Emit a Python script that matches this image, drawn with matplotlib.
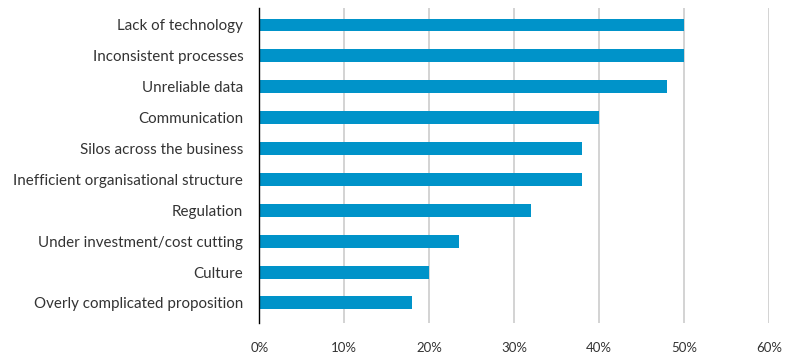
import matplotlib
matplotlib.use("Agg")
import matplotlib.pyplot as plt
from matplotlib.ticker import FuncFormatter

# barriers, top to bottom, with share of respondents (%)
labels = ["Lack of technology", "Inconsistent processes", "Unreliable data",
          "Communication", "Silos across the business",
          "Inefficient organisational structure", "Regulation",
          "Under investment/cost cutting", "Culture",
          "Overly complicated proposition"]
values = [50, 50, 48, 40, 38, 38, 32, 23.5, 20, 18]
xticks = [0, 10, 20, 30, 40, 50, 60]

plt.rcParams['font.family'] = ['Lato', 'DejaVu Sans']

fig = plt.figure(figsize=(7.92, 3.56), dpi=100)
ax = fig.add_axes([0.3274, 0.0927, 0.6439, 0.8848])

pos = list(range(len(labels)))
ax.barh(pos, values, height=0.42, color="#0093c9", zorder=3)

ax.set_xlim(0, 60)
ax.set_ylim(9.65, -0.55)
ax.set_xticks(xticks)
ax.xaxis.set_major_formatter(FuncFormatter(lambda v, p: f"{v:.0f}%"))
ax.set_yticks(pos)
ax.set_yticklabels(labels)

ax.grid(axis="x", color="#cccccc", linewidth=1.2, zorder=0)
for s in ["top", "right", "bottom"]:
    ax.spines[s].set_visible(False)
ax.spines["left"].set_color("black")
ax.spines["left"].set_linewidth(1.0)
ax.spines["left"].set_zorder(4)

ax.tick_params(axis="y", length=0, pad=11.5, labelsize=10.9, labelcolor="#333333")
ax.tick_params(axis="x", length=0, pad=14, labelsize=9.5, labelcolor="#333333")

fig.savefig("out.png", dpi=100)
